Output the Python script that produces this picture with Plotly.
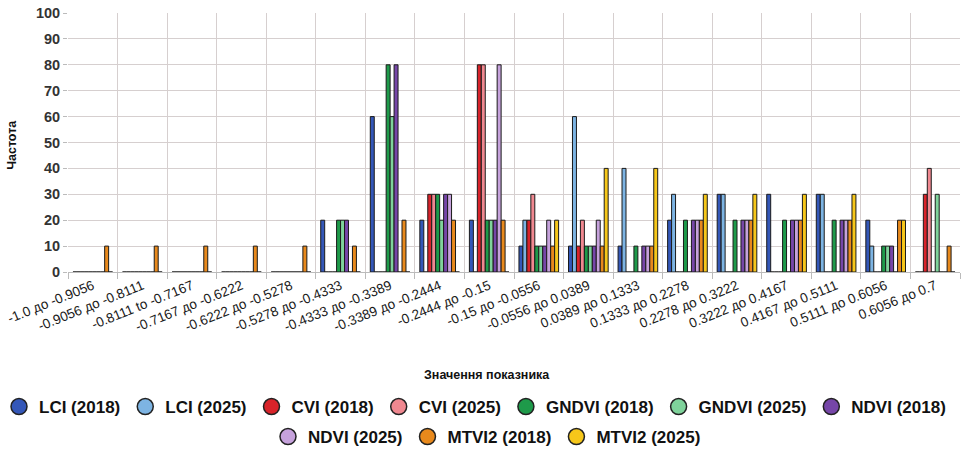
import plotly.graph_objects as go

categories = ["-1.0 до -0.9056", "-0.9056 до -0.8111", "-0.8111 to -0.7167", "-0.7167 до -0.6222",
              "-0.6222 до -0.5278", "-0.5278 до -0.4333", "-0.4333 до -0.3389", "-0.3389 до -0.2444",
              "-0.2444 до -0.15", "-0.15 до -0.0556", "-0.0556 до 0.0389", "0.0389 до 0.1333",
              "0.1333 до 0.2278", "0.2278 до 0.3222", "0.3222 до 0.4167", "0.4167 до 0.5111",
              "0.5111 до 0.6056", "0.6056 до 0.7"]

lci_2018   = [0, 0, 0, 0, 0, 20, 60, 20, 20, 10, 10, 10, 20, 30, 30, 30, 20, 0]
lci_2025   = [0, 0, 0, 0, 0, 0, 0, 0, 0, 20, 60, 40, 30, 30, 0, 30, 10, 0]
cvi_2018   = [0, 0, 0, 0, 0, 0, 0, 30, 80, 20, 10, 0, 0, 0, 0, 0, 0, 30]
cvi_2025   = [0, 0, 0, 0, 0, 0, 0, 30, 80, 30, 20, 0, 0, 0, 0, 0, 0, 40]
gndvi_2018 = [0, 0, 0, 0, 0, 20, 80, 30, 20, 10, 10, 10, 20, 20, 20, 20, 10, 0]
gndvi_2025 = [0, 0, 0, 0, 0, 20, 60, 20, 20, 10, 10, 0, 0, 0, 0, 0, 10, 30]
ndvi_2018  = [0, 0, 0, 0, 0, 20, 80, 30, 20, 10, 10, 10, 20, 20, 20, 20, 10, 0]
ndvi_2025  = [0, 0, 0, 0, 0, 0, 0, 30, 80, 20, 20, 10, 20, 20, 20, 20, 0, 0]
mtvi2_2018 = [10, 10, 10, 10, 10, 10, 20, 20, 20, 10, 10, 10, 20, 20, 20, 20, 20, 10]
mtvi2_2025 = [0, 0, 0, 0, 0, 0, 0, 0, 0, 20, 40, 40, 30, 30, 30, 30, 20, 0]

series_names = ["LCI (2018)", "LCI (2025)", "CVI (2018)", "CVI (2025)", "GNDVI (2018)",
                "GNDVI (2025)", "NDVI (2018)", "NDVI (2025)", "MTVI2 (2018)", "MTVI2 (2025)"]
series_values = [lci_2018, lci_2025, cvi_2018, cvi_2025, gndvi_2018, gndvi_2025,
                 ndvi_2018, ndvi_2025, mtvi2_2018, mtvi2_2025]
colors = ["#3457b8", "#7db4e3", "#d8232a", "#f08890", "#1e9a4a", "#7fd39b",
          "#7646a8", "#c6a2dc", "#e8891c", "#f6c71a"]

fig = go.Figure()
for name, vals, col in zip(series_names, series_values, colors):
    fig.add_trace(go.Bar(x=categories, y=vals, name=name, marker_color=col,
                         marker_line=dict(color="#1a1a1a", width=1), showlegend=False))

for i, (name, col) in enumerate(zip(series_names, colors)):
    fig.add_trace(go.Scatter(x=[None], y=[None], mode="markers", name=name,
                             marker=dict(symbol="circle", size=17, color=col,
                                         line=dict(color="#222", width=1.5)),
                             legend="legend" if i < 7 else "legend2"))

FAM = "Liberation Sans, Arial, sans-serif"
legend_font = dict(family=FAM, size=17, color="#111", weight="bold")
L, W = 68, 892
PLOT_H = 259.0  # pixel height of plot area
fig.update_layout(
    width=974, height=450,
    margin=dict(l=L, r=14, t=13, b=178, autoexpand=False),
    paper_bgcolor="white", plot_bgcolor="white",
    barmode="group", bargap=0.2, bargroupgap=0,
    font=dict(family=FAM, color="#222"),
    xaxis=dict(tickson="boundaries", showgrid=True, gridcolor="#d6cfcf", gridwidth=1,
               ticks="outside", ticklen=6, tickcolor="#bbb", tickangle=-22,
               tickfont=dict(size=13.5, color="#1a1a1a", family=FAM),
               showline=True, linecolor="#bbb", automargin=False),
    yaxis=dict(range=[0, 100], dtick=10, showgrid=True, gridcolor="#d6cfcf", gridwidth=1,
               ticks="outside", ticklen=4, tickcolor="#bbb", zeroline=False,
               tickfont=dict(size=14.5, color="#333", family=FAM, weight="bold"),
               showline=False, automargin=False),
    legend=dict(orientation="h", x=(-1 - L) / W, xanchor="left", xref="paper",
                y=(272 - 407) / PLOT_H, yanchor="middle", yref="paper", font=legend_font,
                itemclick=False, bgcolor="rgba(0,0,0,0)", itemwidth=30),
    legend2=dict(orientation="h", x=0.5, xanchor="center", xref="container",
                 y=(272 - 437) / PLOT_H, yanchor="middle", yref="paper", font=legend_font,
                 bgcolor="rgba(0,0,0,0)", itemwidth=30),
    annotations=[
        dict(text="<b>Значення показника</b>", xref="paper", yref="paper", x=0.47,
             y=(272 - 375) / PLOT_H, showarrow=False, font=dict(size=12.5, color="#111"),
             xanchor="center", yanchor="middle"),
        dict(text="<b>Частота</b>", xref="paper", yref="paper", x=-0.063,
             y=(272 - 145) / PLOT_H, textangle=-90, showarrow=False,
             font=dict(size=12.5, color="#111"), xanchor="center", yanchor="middle"),
    ],
)

fig.write_html("out.html", config={"displayModeBar": False},
               post_script="document.body.style.margin='0';document.body.style.overflow='hidden';")
